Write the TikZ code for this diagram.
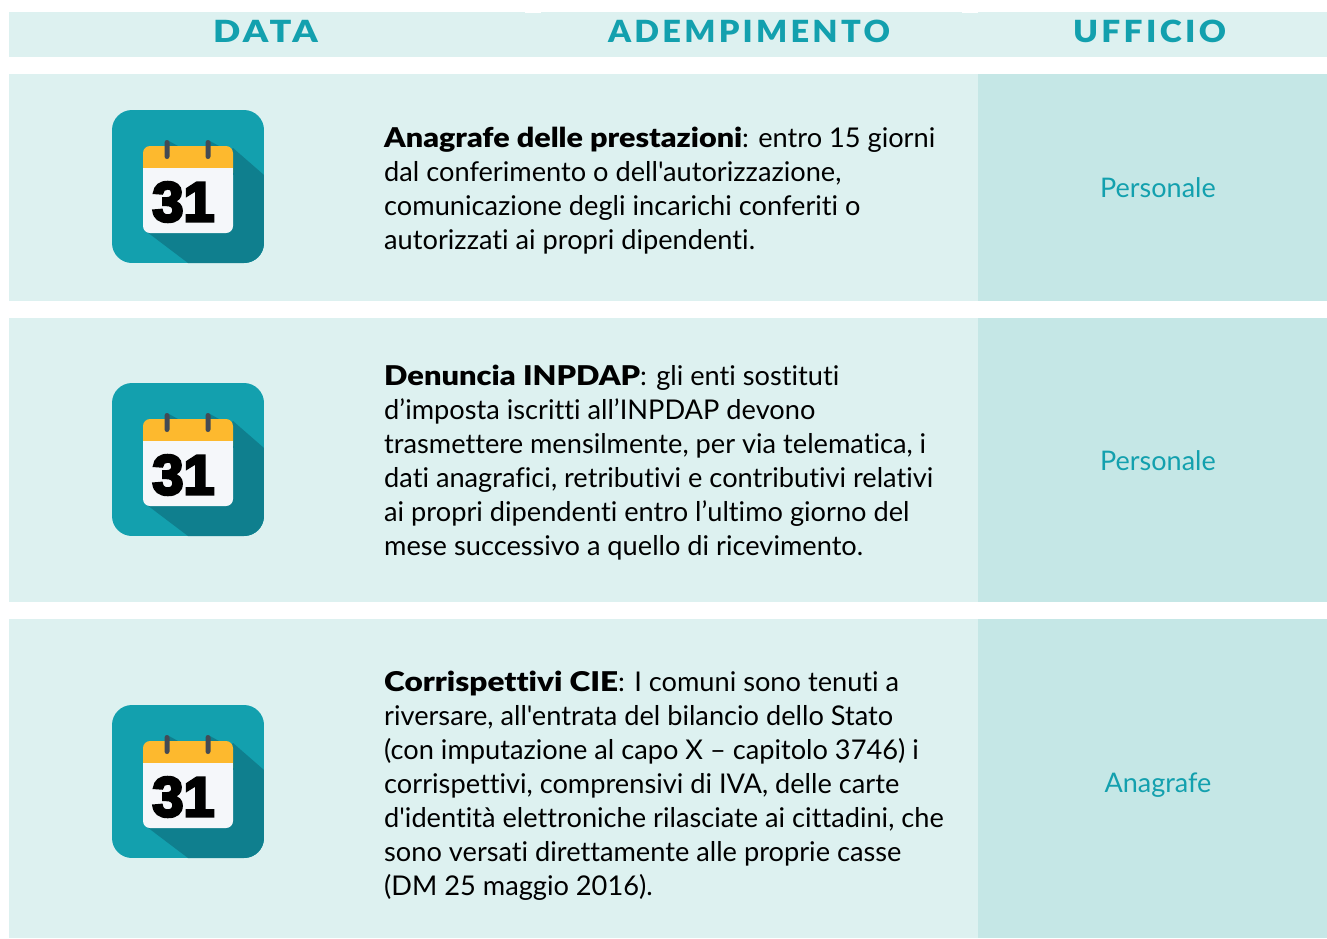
\documentclass[tikz,border=0pt]{standalone}
\usepackage{graphicx}
\usepackage{fontspec}
\setmainfont[Ligatures={NoCommon,TeXOff}]{Lato}
\newfontfamily\calfont[FakeBold=5]{Liberation Sans Bold}
\newfontfamily\headfont[LetterSpace=10]{Lato Black}
\newfontfamily\bdfont[Ligatures={NoCommon,TeXOff}]{Lato Black}
\newcommand{\fitw}[2]{\resizebox{#1pt}{\height}{#2}}
\newcommand{\bd}[2]{\fitw{#1}{\bdfont #2}}
\definecolor{band}{HTML}{DDF1F0}
\definecolor{bandd}{HTML}{C5E7E6}
\definecolor{teal}{HTML}{13A0AE}
\definecolor{tealsh}{HTML}{0F7F8E}
\definecolor{orng}{HTML}{FDB92E}
\definecolor{pagec}{HTML}{F5F7FA}
\definecolor{ringc}{HTML}{434A54}
\tikzset{
  x=1pt,y=-1pt,
  headtxt/.style={text=teal,font=\headfont\fontsize{30.5}{30}\selectfont,inner sep=0,anchor=center},
  bodytxt/.style={text=black,font=\fontsize{27.2}{34}\selectfont,inner sep=0,anchor=west,align=left},
  officetxt/.style={text=teal,font=\fontsize{27}{34}\selectfont,inner sep=0,anchor=center},
  pics/calicon/.style={code={
    \begin{scope}
      \clip[rounded corners=20pt] (0,0) rectangle (152,153);
      \fill[teal] (0,0) rectangle (152,153);
      \fill[tealsh] (121,38) -- (152,65) -- (152,153) -- (76,153) -- (35,122) -- cycle;
      \fill[tealsh] (57,31) -- (66,36) -- (57,36) -- cycle;
      \fill[tealsh] (98,31) -- (107,36) -- (98,36) -- cycle;
    \end{scope}
    \fill[orng,rounded corners=7pt] (31,36) rectangle (121,70);
    \fill[orng] (31,50) rectangle (121,58);
    \fill[pagec,rounded corners=7pt] (31,58) rectangle (121,123);
    \fill[pagec] (31,58) rectangle (121,80);
    \fill[ringc,rounded corners=2.5pt] (52.5,30) rectangle (57.5,49);
    \fill[ringc,rounded corners=2.5pt] (93.5,30) rectangle (98.5,49);
    \node[inner sep=0,text=black,font=\calfont\fontsize{56}{56}\selectfont] at (71.5,92) {31};
  }}
}
\begin{document}
\begin{tikzpicture}
\useasboundingbox (0,0) rectangle (1327,938);
\fill[white] (0,0) rectangle (1327,938);
% header
\fill[band] (9,12) rectangle (1327,57);
\fill[white] (525,12) rectangle (541,13);
\fill[white] (962,12) rectangle (978,13);
\node[headtxt] (hdata) at (265.5,31.5) {\fitw{105}{DATA}};
\node[headtxt] (hadem) at (749,31.5) {\fitw{282}{ADEMPIMENTO}};
\node[headtxt] (huff) at (1149.5,31.5) {\fitw{153}{UFFICIO}};
% rows
\fill[band] (9,74) rectangle (978,301);
\fill[bandd] (978,74) rectangle (1327,301);
\fill[band] (9,318) rectangle (978,602);
\fill[bandd] (978,318) rectangle (1327,602);
\fill[band] (9,619) rectangle (978,938);
\fill[bandd] (978,619) rectangle (1327,938);
% icons
\pic at (112,110) {calicon};
\pic at (112,383) {calicon};
\pic at (112,705) {calicon};
% texts
\node[bodytxt] (t1) at (384,190.5) {\bd{358}{Anagrafe delle prestazioni}: entro 15 giorni\\dal conferimento o dell'autorizzazione,\\comunicazione degli incarichi conferiti o\\autorizzati ai propri dipendenti.};
\node[bodytxt] (t2) at (384,462.5) {\bd{256}{Denuncia INPDAP}: gli enti sostituti\\d’imposta iscritti all’INPDAP devono\\trasmettere mensilmente, per via telematica, i\\dati anagrafici, retributivi e contributivi relativi\\ai propri dipendenti entro l’ultimo giorno del\\mese successivo a quello di ricevimento.};
\node[bodytxt] (t3) at (384,786) {\bd{234}{Corrispettivi CIE}: I comuni sono tenuti a\\riversare, all'entrata del bilancio dello Stato\\(con imputazione al capo X – capitolo 3746) i\\corrispettivi, comprensivi di IVA, delle carte\\d'identità elettroniche rilasciate ai cittadini, che\\sono versati direttamente alle proprie casse\\(DM 25 maggio 2016).};
\node[officetxt] (o1) at (1158,188) {Personale};
\node[officetxt] (o2) at (1158,461) {Personale};
\node[officetxt] (o3) at (1158,785) {Anagrafe};
\end{tikzpicture}
\end{document}
